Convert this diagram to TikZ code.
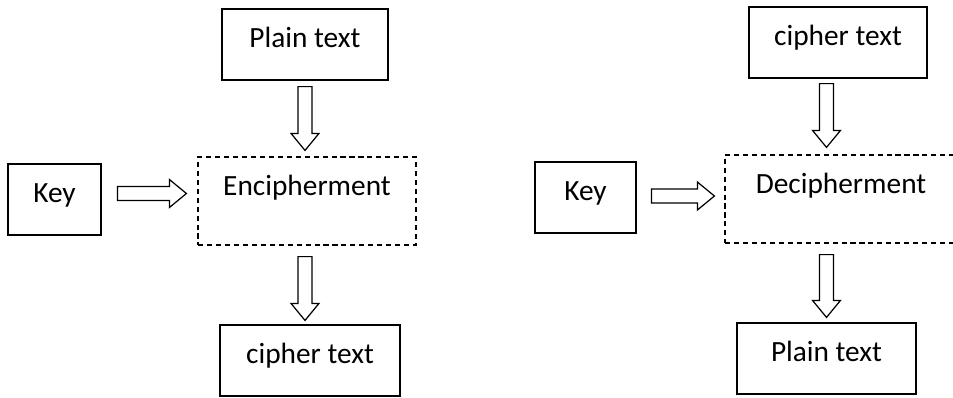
\documentclass[tikz,border=0pt]{standalone}
\usepackage{fontspec}
\setmainfont{Carlito}
\usetikzlibrary{calc}

\begin{document}
\begin{tikzpicture}[
    x=0.02cm, y=-0.02cm,
    font=\fontsize{16.7}{19}\selectfont,
    box/.style={rectangle, draw, line width=0.7pt, inner sep=0pt, text height=0.77cm, text depth=0.65cm, minimum height=1.42cm},
    proc/.style={box, dash pattern=on 2.9pt off 2.2pt, text depth=0.99cm, minimum height=1.76cm},
    blk/.style={draw, line width=0.7pt, line join=miter, to path={
        ($(\tikztotarget)!0.34cm!(\tikztostart)$) coordinate (hb)
        ($(\tikztostart)!0.14cm!90:(\tikztotarget)$)
        -- ($(hb)!0.14cm!-90:(\tikztostart)$)
        -- ($(hb)!0.28cm!-90:(\tikztostart)$)
        -- (\tikztotarget)
        -- ($(hb)!0.28cm!90:(\tikztostart)$)
        -- ($(hb)!0.14cm!90:(\tikztostart)$)
        -- ($(\tikztostart)!0.14cm!-90:(\tikztotarget)$)
        -- cycle}},
]
\useasboundingbox (0,0) rectangle (953,397);
\clip (0,0) rectangle (953,397);

% encipherment side
\node[box, minimum width=3.32cm] (ptA) at (305,44.5) {Plain text};
\node[proc, minimum width=4.36cm] (enc) at (307,201) {Encipherment};
\node[box, minimum width=1.86cm] (keyA) at (54.5,199.5) {Key};
\node[box, minimum width=3.6cm] (ctA) at (310,360.5) {cipher text};

\draw[blk] ($(ptA.south)+(0,6)$) to ($(ptA.south |- enc.north)+(0,-6)$);
\draw[blk] ($(keyA.east)+(16,-6)$) to ($(enc.west)+(-11,-7.5)$);
\draw[blk] ($(ptA.south |- enc.south)+(0,11)$) to ($(ptA.south |- ctA.north)+(0,-4)$);

% decipherment side
\node[box, minimum width=3.56cm] (ctB) at (838,42.5) {cipher text};
\node[proc, minimum width=4.64cm] (dec) at (841,199) {Decipherment};
\node[box, minimum width=2.02cm] (keyB) at (585.5,197.5) {Key};
\node[box, minimum width=3.58cm] (ptB) at (826.5,358.5) {Plain text};

\draw[blk] ($(ptB.north |- ctB.south)+(0,5)$) to ($(ptB.north |- dec.north)+(0,-7)$);
\draw[blk] ($(keyB.east)+(15,-1.5)$) to ($(dec.west)+(-10,-3)$);
\draw[blk] ($(ptB.north |- dec.south)+(0,11)$) to ($(ptB.north)+(0,-5)$);
\end{tikzpicture}
\end{document}
